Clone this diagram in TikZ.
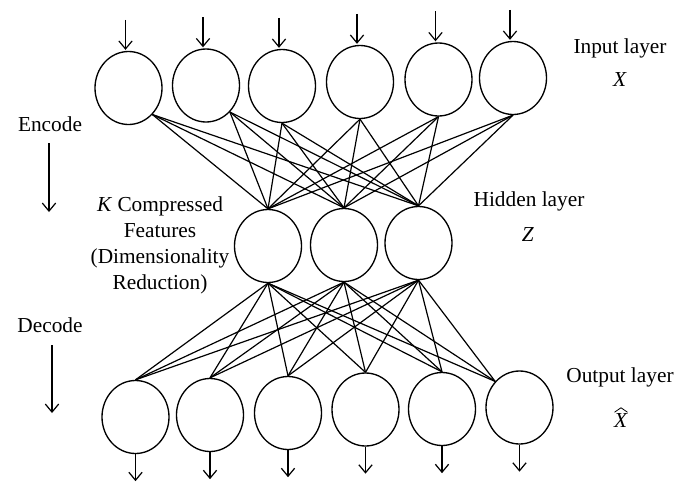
\documentclass[tikz,border=0pt]{standalone}
\usepackage{fontspec}
\setmainfont{Liberation Serif}
\usetikzlibrary{shapes.geometric,arrows.meta,calc}

\tikzset{
  unit/.style={draw,ellipse,line width=1pt,minimum width=50.25pt,minimum height=54.75pt,inner sep=0pt},
  link/.style={line width=0.9pt},
  flow/.style={line width=0.9pt,-{Straight Barb[length=6pt,width=10pt]}},
  lbl/.style={inner sep=0.75pt,font=\fontsize{16}{19.5}\selectfont,align=center}
}

\begin{document}
\begin{tikzpicture}[x=0.75pt,y=0.75pt,yscale=-1,xscale=1]
\useasboundingbox (0,0) rectangle (690,496);

%Shape: input layer
\node [unit] (I1) at (128.5,88) {};
\node [unit] (I2) at (206,85.5) {};
\node [unit] (I3) at (282,86) {};
\node [unit] (I4) at (360,82) {};
\node [unit] (I5) at (438.5,79.5) {};
\node [unit] (I6) at (513,78) {};

%Shape: hidden layer
\node [unit] (H1) at (268,246) {};
\node [unit] (H2) at (344,245) {};
\node [unit] (H3) at (418.5,243) {};

%Shape: output layer
\node [unit] (O1) at (135.5,417) {};
\node [unit] (O2) at (210,415) {};
\node [unit] (O3) at (288,413) {};
\node [unit] (O4) at (365.5,409.5) {};
\node [unit] (O5) at (442,409) {};
\node [unit] (O6) at (519.5,407.5) {};

% Weights
\foreach \i/\a in {I1/-48,I2/-48,I3/south,I4/south,I5/south,I6/south}
  \foreach \h in {H1,H2,H3}
    \draw [link] (\i.\a) -- (\h.north);
\foreach \o/\a in {O1/north,O2/north,O3/north,O4/north,O5/north,O6/133}
  \foreach \h in {H1,H2,H3}
    \draw [link] (\h.south) -- (\o.\a);

% Inputs and outputs
\foreach \i in {I1,I2,I3,I4,I5,I6}
  \draw [flow] ($(\i.north)+(-3,-31)$) -- ($(\i.north)+(-3,-1)$);
\foreach \o in {O1,O2,O3,O4,O5,O6}
  \draw [flow] (\o.south) -- ($(\o.south)+(0,27)$);

% Text Node
\node [lbl] (inlbl) at (620,48) {Input layer};
\node [lbl] (invar) at (620,80) {\textit{X}};
% Text Node
\node [lbl] (hidlbl) at (529,201) {Hidden layer};
\node [lbl] (hidvar) at (528,235) {\textit{Z}};
% Text Node
\node [lbl] (outlbl) at (620,377) {Output layer};
\node [lbl] (outvar) at (621,421) {\textit{X}};
\draw [line width=0.6pt] ($(outvar.north)+(-6.5,-0.5)$) -- ($(outvar.north)+(0,-5)$) -- ($(outvar.north)+(6.5,-0.5)$);
% Text Node
\node [lbl] (feat) at (160,245.5) {\textit{K} Compressed\\Features\\(Dimensionality\\Reduction)};

% Text Node
\node [lbl] (enc) at (50,124) {Encode};
\coordinate (encA) at (49,143);
\coordinate (encB) at (49,212);
\draw [flow] (encA) -- (encB);
% Text Node
\node [lbl] (dec) at (50,325) {Decode};
\coordinate (decA) at (52,345);
\coordinate (decB) at (52,413);
\draw [flow] (decA) -- (decB);

\end{tikzpicture}
\end{document}
